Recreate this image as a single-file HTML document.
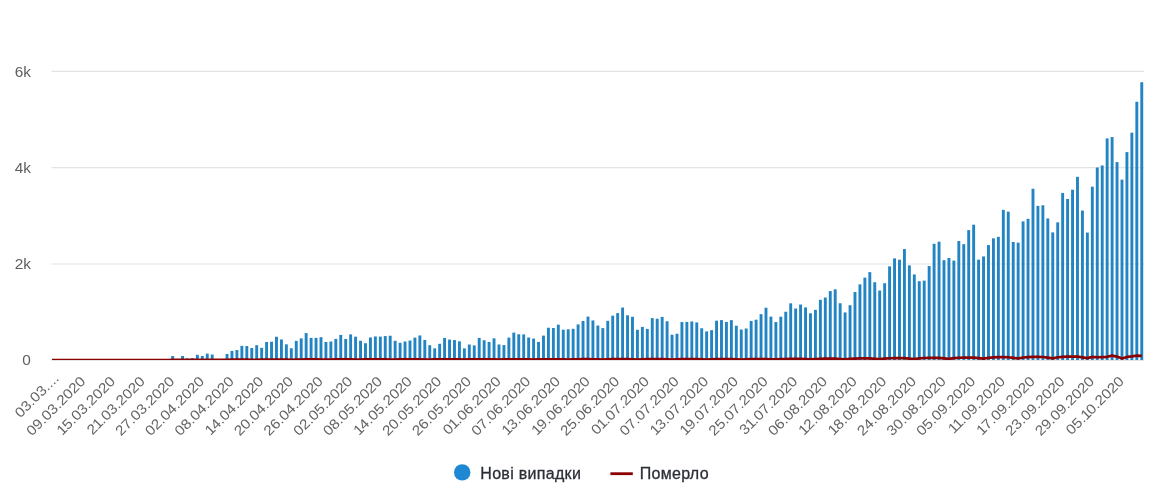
<!DOCTYPE html>
<html lang="uk"><head><meta charset="utf-8"><title>Нові випадки</title>
<style>
html,body{margin:0;padding:0;background:#fff}
body{width:1162px;height:489px;overflow:hidden}
svg{display:block;will-change:transform}
svg text{font-family:"Liberation Sans",Arial,sans-serif}
.yl{font-size:14px;fill:#5e5e5e}
.xl{font-size:14px;fill:#646464}
.lg{font-size:16px;letter-spacing:0.3px;fill:#2b2f36;stroke:#2b2f36;stroke-width:0.3px}
</style></head><body>
<svg width="1162" height="489" viewBox="0 0 1162 489">
<rect width="1162" height="489" fill="#fff"/>
<defs><clipPath id="pc"><rect x="51.5" y="60" width="1093.1" height="300.0"/></clipPath></defs>
<g stroke="#e4e4e4" stroke-width="1.2">
<line x1="51.5" y1="360.3" x2="1144.2" y2="360.3"/>
<line x1="51.5" y1="264.0" x2="1144.2" y2="264.0"/>
<line x1="51.5" y1="167.7" x2="1144.2" y2="167.7"/>
<line x1="51.5" y1="71.4" x2="1144.2" y2="71.4"/>
</g>
<g class="yl" text-anchor="end">
<text transform="translate(30.9 364.9) scale(1.1 1)">0</text>
<text transform="translate(30.9 269.0) scale(1.1 1)">2k</text>
<text transform="translate(30.9 173.1) scale(1.1 1)">4k</text>
<text transform="translate(30.9 76.8) scale(1.1 1)">6k</text>
</g>
<g fill="#2284c2">
<rect x="171.19" y="356.00" width="2.90" height="4.00"/><rect x="181.08" y="356.00" width="2.90" height="4.00"/><rect x="186.02" y="358.40" width="2.90" height="1.60"/><rect x="190.97" y="358.16" width="2.90" height="1.84"/><rect x="195.91" y="354.80" width="2.90" height="5.20"/><rect x="200.86" y="356.00" width="2.90" height="4.00"/><rect x="205.80" y="353.60" width="2.90" height="6.40"/>
<rect x="210.75" y="354.56" width="2.90" height="5.44"/><rect x="225.58" y="353.94" width="2.90" height="6.06"/><rect x="230.52" y="350.91" width="2.90" height="9.09"/><rect x="235.47" y="350.05" width="2.90" height="9.95"/><rect x="240.41" y="345.87" width="2.90" height="14.13"/><rect x="245.36" y="346.02" width="2.90" height="13.98"/>
<rect x="250.30" y="348.03" width="2.90" height="11.97"/><rect x="255.25" y="345.20" width="2.90" height="14.80"/><rect x="260.19" y="347.84" width="2.90" height="12.16"/><rect x="265.14" y="341.98" width="2.90" height="18.02"/><rect x="270.08" y="341.74" width="2.90" height="18.26"/><rect x="275.02" y="336.75" width="2.90" height="23.25"/><rect x="279.97" y="339.49" width="2.90" height="20.51"/><rect x="284.91" y="344.34" width="2.90" height="15.66"/>
<rect x="289.86" y="348.27" width="2.90" height="11.73"/><rect x="294.80" y="340.88" width="2.90" height="19.12"/><rect x="299.75" y="338.38" width="2.90" height="21.62"/><rect x="304.69" y="333.06" width="2.90" height="26.94"/><rect x="309.64" y="337.90" width="2.90" height="22.10"/><rect x="314.58" y="337.86" width="2.90" height="22.14"/><rect x="319.53" y="337.18" width="2.90" height="22.82"/><rect x="324.47" y="341.98" width="2.90" height="18.02"/>
<rect x="329.41" y="341.55" width="2.90" height="18.45"/><rect x="334.36" y="338.91" width="2.90" height="21.09"/><rect x="339.30" y="334.88" width="2.90" height="25.12"/><rect x="344.25" y="338.96" width="2.90" height="21.04"/><rect x="349.19" y="334.40" width="2.90" height="25.60"/><rect x="354.14" y="336.70" width="2.90" height="23.30"/><rect x="359.08" y="340.74" width="2.90" height="19.26"/><rect x="364.03" y="343.23" width="2.90" height="16.77"/>
<rect x="368.97" y="337.42" width="2.90" height="22.58"/><rect x="373.91" y="336.46" width="2.90" height="23.54"/><rect x="378.86" y="336.61" width="2.90" height="23.39"/><rect x="383.80" y="336.08" width="2.90" height="23.92"/><rect x="388.75" y="335.74" width="2.90" height="24.26"/><rect x="393.69" y="340.83" width="2.90" height="19.17"/><rect x="398.64" y="342.80" width="2.90" height="17.20"/><rect x="403.58" y="341.50" width="2.90" height="18.50"/>
<rect x="408.53" y="340.54" width="2.90" height="19.46"/><rect x="413.47" y="337.62" width="2.90" height="22.38"/><rect x="418.42" y="335.46" width="2.90" height="24.54"/><rect x="423.36" y="340.02" width="2.90" height="19.98"/><rect x="428.30" y="345.20" width="2.90" height="14.80"/><rect x="433.25" y="348.32" width="2.90" height="11.68"/><rect x="438.19" y="343.81" width="2.90" height="16.19"/><rect x="443.14" y="337.95" width="2.90" height="22.05"/>
<rect x="448.08" y="339.58" width="2.90" height="20.42"/><rect x="453.03" y="340.06" width="2.90" height="19.94"/><rect x="457.97" y="341.31" width="2.90" height="18.69"/><rect x="462.92" y="348.37" width="2.90" height="11.63"/><rect x="467.86" y="344.53" width="2.90" height="15.47"/><rect x="472.80" y="345.39" width="2.90" height="14.61"/><rect x="477.75" y="337.90" width="2.90" height="22.10"/><rect x="482.69" y="340.21" width="2.90" height="19.79"/>
<rect x="487.64" y="341.94" width="2.90" height="18.06"/><rect x="492.58" y="338.34" width="2.90" height="21.66"/><rect x="497.53" y="344.48" width="2.90" height="15.52"/><rect x="502.47" y="345.06" width="2.90" height="14.94"/><rect x="507.42" y="337.62" width="2.90" height="22.38"/><rect x="512.36" y="332.58" width="2.90" height="27.42"/><rect x="517.31" y="334.26" width="2.90" height="25.74"/><rect x="522.25" y="334.40" width="2.90" height="25.60"/>
<rect x="527.19" y="337.52" width="2.90" height="22.48"/><rect x="532.14" y="338.58" width="2.90" height="21.42"/><rect x="537.08" y="341.89" width="2.90" height="18.11"/><rect x="542.03" y="335.60" width="2.90" height="24.40"/><rect x="546.97" y="327.73" width="2.90" height="32.27"/><rect x="551.92" y="328.02" width="2.90" height="31.98"/><rect x="556.86" y="324.66" width="2.90" height="35.34"/><rect x="561.81" y="329.70" width="2.90" height="30.30"/>
<rect x="566.75" y="329.31" width="2.90" height="30.69"/><rect x="571.69" y="328.83" width="2.90" height="31.17"/><rect x="576.64" y="324.42" width="2.90" height="35.58"/><rect x="581.58" y="321.01" width="2.90" height="38.99"/><rect x="586.53" y="316.59" width="2.90" height="43.41"/><rect x="591.47" y="320.43" width="2.90" height="39.57"/><rect x="596.42" y="325.52" width="2.90" height="34.48"/><rect x="601.36" y="328.11" width="2.90" height="31.89"/>
<rect x="606.31" y="320.82" width="2.90" height="39.18"/><rect x="611.25" y="315.68" width="2.90" height="44.32"/><rect x="616.20" y="313.09" width="2.90" height="46.91"/><rect x="621.14" y="307.57" width="2.90" height="52.43"/><rect x="626.08" y="315.30" width="2.90" height="44.70"/><rect x="631.03" y="316.78" width="2.90" height="43.22"/><rect x="635.97" y="329.79" width="2.90" height="30.21"/><rect x="640.92" y="326.91" width="2.90" height="33.09"/>
<rect x="645.86" y="328.93" width="2.90" height="31.07"/><rect x="650.81" y="318.13" width="2.90" height="41.87"/><rect x="655.75" y="318.75" width="2.90" height="41.25"/><rect x="660.70" y="316.93" width="2.90" height="43.07"/><rect x="665.64" y="321.30" width="2.90" height="38.70"/><rect x="670.58" y="334.74" width="2.90" height="25.26"/><rect x="675.53" y="333.73" width="2.90" height="26.27"/><rect x="680.47" y="322.06" width="2.90" height="37.94"/>
<rect x="685.42" y="321.92" width="2.90" height="38.08"/><rect x="690.36" y="321.49" width="2.90" height="38.51"/><rect x="695.31" y="322.40" width="2.90" height="37.60"/><rect x="700.25" y="328.26" width="2.90" height="31.74"/><rect x="705.20" y="331.42" width="2.90" height="28.58"/><rect x="710.14" y="330.18" width="2.90" height="29.82"/><rect x="715.09" y="320.67" width="2.90" height="39.33"/><rect x="720.03" y="320.10" width="2.90" height="39.90"/>
<rect x="724.97" y="321.97" width="2.90" height="38.03"/><rect x="729.92" y="320.14" width="2.90" height="39.86"/><rect x="734.86" y="325.71" width="2.90" height="34.29"/><rect x="739.81" y="329.55" width="2.90" height="30.45"/><rect x="744.75" y="328.50" width="2.90" height="31.50"/><rect x="749.70" y="321.01" width="2.90" height="38.99"/><rect x="754.64" y="319.71" width="2.90" height="40.29"/><rect x="759.59" y="314.14" width="2.90" height="45.86"/>
<rect x="764.53" y="307.71" width="2.90" height="52.29"/><rect x="769.47" y="316.64" width="2.90" height="43.36"/><rect x="774.42" y="322.06" width="2.90" height="37.94"/><rect x="779.36" y="316.69" width="2.90" height="43.31"/><rect x="784.31" y="311.74" width="2.90" height="48.26"/><rect x="789.25" y="303.34" width="2.90" height="56.66"/><rect x="794.20" y="308.48" width="2.90" height="51.52"/><rect x="799.14" y="304.54" width="2.90" height="55.46"/>
<rect x="804.09" y="307.42" width="2.90" height="52.58"/><rect x="809.03" y="313.28" width="2.90" height="46.72"/><rect x="813.98" y="309.87" width="2.90" height="50.13"/><rect x="818.92" y="299.79" width="2.90" height="60.21"/><rect x="823.86" y="297.54" width="2.90" height="62.46"/><rect x="828.81" y="291.06" width="2.90" height="68.94"/><rect x="833.75" y="289.33" width="2.90" height="70.67"/><rect x="838.70" y="303.25" width="2.90" height="56.75"/>
<rect x="843.64" y="312.42" width="2.90" height="47.58"/><rect x="848.59" y="305.22" width="2.90" height="54.78"/><rect x="853.53" y="292.02" width="2.90" height="67.98"/><rect x="858.48" y="284.38" width="2.90" height="75.62"/><rect x="863.42" y="277.66" width="2.90" height="82.34"/><rect x="868.36" y="272.14" width="2.90" height="87.86"/><rect x="873.31" y="282.22" width="2.90" height="77.78"/><rect x="878.25" y="290.53" width="2.90" height="69.47"/>
<rect x="883.20" y="283.23" width="2.90" height="76.77"/><rect x="888.14" y="266.38" width="2.90" height="93.62"/><rect x="893.09" y="258.37" width="2.90" height="101.63"/><rect x="898.03" y="259.71" width="2.90" height="100.29"/><rect x="902.98" y="249.06" width="2.90" height="110.94"/><rect x="907.92" y="265.42" width="2.90" height="94.58"/><rect x="912.87" y="274.45" width="2.90" height="85.55"/><rect x="917.81" y="281.22" width="2.90" height="78.78"/>
<rect x="922.75" y="280.64" width="2.90" height="79.36"/><rect x="927.70" y="266.05" width="2.90" height="93.95"/><rect x="932.64" y="243.78" width="2.90" height="116.22"/><rect x="937.59" y="241.71" width="2.90" height="118.29"/><rect x="942.53" y="260.19" width="2.90" height="99.81"/><rect x="947.48" y="258.03" width="2.90" height="101.97"/><rect x="952.42" y="260.58" width="2.90" height="99.42"/><rect x="957.37" y="241.04" width="2.90" height="118.96"/>
<rect x="962.31" y="244.16" width="2.90" height="115.84"/><rect x="967.25" y="230.10" width="2.90" height="129.90"/><rect x="972.20" y="224.67" width="2.90" height="135.33"/><rect x="977.14" y="259.66" width="2.90" height="100.34"/><rect x="982.09" y="256.45" width="2.90" height="103.55"/><rect x="987.03" y="245.07" width="2.90" height="114.93"/><rect x="991.98" y="238.35" width="2.90" height="121.65"/><rect x="996.92" y="236.86" width="2.90" height="123.14"/>
<rect x="1001.87" y="209.89" width="2.90" height="150.11"/><rect x="1006.81" y="211.66" width="2.90" height="148.34"/><rect x="1011.76" y="241.95" width="2.90" height="118.05"/><rect x="1016.70" y="242.62" width="2.90" height="117.38"/><rect x="1021.64" y="221.36" width="2.90" height="138.64"/><rect x="1026.59" y="218.82" width="2.90" height="141.18"/><rect x="1031.53" y="188.77" width="2.90" height="171.23"/><rect x="1036.48" y="205.86" width="2.90" height="154.14"/>
<rect x="1041.42" y="205.28" width="2.90" height="154.72"/><rect x="1046.37" y="218.43" width="2.90" height="141.57"/><rect x="1051.31" y="232.40" width="2.90" height="127.60"/><rect x="1056.26" y="222.37" width="2.90" height="137.63"/><rect x="1061.20" y="192.94" width="2.90" height="167.06"/><rect x="1066.14" y="198.94" width="2.90" height="161.06"/><rect x="1071.09" y="189.68" width="2.90" height="170.32"/><rect x="1076.03" y="176.82" width="2.90" height="183.18"/>
<rect x="1080.98" y="210.56" width="2.90" height="149.44"/><rect x="1085.92" y="232.59" width="2.90" height="127.41"/><rect x="1090.87" y="186.70" width="2.90" height="173.30"/><rect x="1095.81" y="167.50" width="2.90" height="192.50"/><rect x="1100.76" y="165.49" width="2.90" height="194.51"/><rect x="1105.70" y="138.42" width="2.90" height="221.58"/><rect x="1110.65" y="137.07" width="2.90" height="222.93"/><rect x="1115.59" y="162.08" width="2.90" height="197.92"/>
<rect x="1120.53" y="179.65" width="2.90" height="180.35"/><rect x="1125.48" y="152.10" width="2.90" height="207.90"/><rect x="1130.42" y="132.66" width="2.90" height="227.34"/><rect x="1135.37" y="101.74" width="2.90" height="258.26"/><rect x="1140.31" y="82.21" width="2.90" height="277.79"/>
</g>
<polyline clip-path="url(#pc)" fill="none" stroke="#8b0000" stroke-width="2.7" stroke-linejoin="round" points="51.8,360.05 54.0,360.05 58.9,360.05 63.9,360.05 68.8,360.05 73.8,360.05 78.7,360.05 83.6,360.05 88.6,360.05 93.5,360.05 98.5,360.05 103.4,360.05 108.4,360.05 113.3,360.05 118.3,360.05 123.2,360.05 128.1,360.05 133.1,360.05 138.0,360.05 143.0,360.05 147.9,360.05 152.9,360.05 157.8,360.05 162.8,360.00 167.7,360.00 172.6,359.95 177.6,359.95 182.5,359.95 187.5,359.95 192.4,359.91 197.4,359.86 202.3,359.81 207.3,359.81 212.2,359.81 217.1,359.86 222.1,359.91 227.0,359.81 232.0,359.71 236.9,359.71 241.9,359.67 246.8,359.67 251.8,359.76 256.7,359.81 261.6,359.67 266.6,359.62 271.5,359.57 276.5,359.57 281.4,359.57 286.4,359.67 291.3,359.76 296.3,359.57 301.2,359.52 306.1,359.47 311.1,359.47 316.0,359.47 321.0,359.57 325.9,359.71 330.9,359.52 335.8,359.43 340.8,359.38 345.7,359.33 350.6,359.38 355.6,359.52 360.5,359.67 365.5,359.47 370.4,359.38 375.4,359.33 380.3,359.33 385.3,359.33 390.2,359.52 395.1,359.67 400.1,359.43 405.0,359.33 410.0,359.33 414.9,359.33 419.9,359.33 424.8,359.52 429.8,359.67 434.7,359.43 439.6,359.33 444.6,359.28 449.5,359.28 454.5,359.33 459.4,359.47 464.4,359.67 469.3,359.43 474.3,359.33 479.2,359.28 484.1,359.28 489.1,359.33 494.0,359.47 499.0,359.67 503.9,359.43 508.9,359.28 513.8,359.28 518.8,359.28 523.7,359.28 528.6,359.47 533.6,359.62 538.5,359.38 543.5,359.28 548.4,359.23 553.4,359.23 558.3,359.28 563.3,359.43 568.2,359.62 573.1,359.38 578.1,359.23 583.0,359.19 588.0,359.19 592.9,359.23 597.9,359.38 602.8,359.57 607.8,359.28 612.7,359.19 617.6,359.14 622.6,359.09 627.5,359.14 632.5,359.33 637.4,359.52 642.4,359.23 647.3,359.09 652.3,359.04 657.2,359.04 662.1,359.09 667.1,359.33 672.0,359.52 677.0,359.23 681.9,359.14 686.9,359.09 691.8,359.09 696.8,359.14 701.7,359.33 706.6,359.57 711.6,359.28 716.5,359.14 721.5,359.09 726.4,359.09 731.4,359.14 736.3,359.33 741.3,359.52 746.2,359.23 751.1,359.09 756.1,359.04 761.0,359.04 766.0,359.04 770.9,359.28 775.9,359.47 780.8,359.19 785.8,358.99 790.7,358.95 795.6,358.95 800.6,358.95 805.5,359.19 810.5,359.43 815.4,358.99 820.4,358.80 825.3,358.71 830.3,358.71 835.2,358.71 840.1,358.99 845.1,359.28 850.0,358.80 855.0,358.56 859.9,358.47 864.9,358.42 869.8,358.47 874.8,358.80 879.7,359.14 884.6,358.56 889.6,358.27 894.5,358.18 899.5,358.13 904.4,358.18 909.4,358.56 914.3,358.99 919.3,358.32 924.2,357.99 929.1,357.89 934.1,357.84 939.0,357.89 944.0,358.37 948.9,358.85 953.9,358.08 958.8,357.75 963.8,357.60 968.7,357.55 973.6,357.60 978.6,358.13 983.5,358.66 988.5,357.79 993.4,357.41 998.4,357.22 1003.3,357.17 1008.3,357.27 1013.2,357.84 1018.1,358.47 1023.1,357.51 1028.0,357.07 1033.0,356.88 1037.9,356.88 1042.9,356.98 1047.8,357.65 1052.8,358.32 1057.7,357.27 1062.7,356.83 1067.6,356.64 1072.5,356.55 1077.5,356.64 1082.4,357.36 1087.4,358.08 1092.3,356.88 1097.3,357.27 1102.2,357.03 1107.2,356.79 1112.1,355.63 1117.0,356.55 1122.0,358.47 1126.9,356.93 1131.9,356.35 1136.8,355.59 1141.8,355.78"/>
<g class="xl" text-anchor="end">
<text transform="translate(59.8 379.1) rotate(-45) scale(1.1 1)" x="0" y="0">03.03....</text>
<text transform="translate(86.4 382.1) rotate(-45) scale(1.1 1)" x="0" y="0">09.03.2020</text>
<text transform="translate(116.1 382.1) rotate(-45) scale(1.1 1)" x="0" y="0" dx="0 -0.9 0 0 0 0 0 0 0 0">15.03.2020</text>
<text transform="translate(145.8 382.1) rotate(-45) scale(1.1 1)" x="0" y="0" dx="0 -0.6 -0.9 0 0 0 0 0 0 0">21.03.2020</text>
<text transform="translate(175.4 382.1) rotate(-45) scale(1.1 1)" x="0" y="0">27.03.2020</text>
<text transform="translate(205.1 382.1) rotate(-45) scale(1.1 1)" x="0" y="0">02.04.2020</text>
<text transform="translate(234.8 382.1) rotate(-45) scale(1.1 1)" x="0" y="0">08.04.2020</text>
<text transform="translate(264.4 382.1) rotate(-45) scale(1.1 1)" x="0" y="0" dx="0 -0.9 0 0 0 0 0 0 0 0">14.04.2020</text>
<text transform="translate(294.1 382.1) rotate(-45) scale(1.1 1)" x="0" y="0">20.04.2020</text>
<text transform="translate(323.8 382.1) rotate(-45) scale(1.1 1)" x="0" y="0">26.04.2020</text>
<text transform="translate(353.4 382.1) rotate(-45) scale(1.1 1)" x="0" y="0">02.05.2020</text>
<text transform="translate(383.1 382.1) rotate(-45) scale(1.1 1)" x="0" y="0">08.05.2020</text>
<text transform="translate(412.8 382.1) rotate(-45) scale(1.1 1)" x="0" y="0" dx="0 -0.9 0 0 0 0 0 0 0 0">14.05.2020</text>
<text transform="translate(442.4 382.1) rotate(-45) scale(1.1 1)" x="0" y="0">20.05.2020</text>
<text transform="translate(472.1 382.1) rotate(-45) scale(1.1 1)" x="0" y="0">26.05.2020</text>
<text transform="translate(501.8 382.1) rotate(-45) scale(1.1 1)" x="0" y="0" dx="0 -0.6 -0.9 0 0 0 0 0 0 0">01.06.2020</text>
<text transform="translate(531.4 382.1) rotate(-45) scale(1.1 1)" x="0" y="0">07.06.2020</text>
<text transform="translate(561.1 382.1) rotate(-45) scale(1.1 1)" x="0" y="0" dx="0 -0.9 0 0 0 0 0 0 0 0">13.06.2020</text>
<text transform="translate(590.8 382.1) rotate(-45) scale(1.1 1)" x="0" y="0" dx="0 -0.9 0 0 0 0 0 0 0 0">19.06.2020</text>
<text transform="translate(620.4 382.1) rotate(-45) scale(1.1 1)" x="0" y="0">25.06.2020</text>
<text transform="translate(650.1 382.1) rotate(-45) scale(1.1 1)" x="0" y="0" dx="0 -0.6 -0.9 0 0 0 0 0 0 0">01.07.2020</text>
<text transform="translate(679.8 382.1) rotate(-45) scale(1.1 1)" x="0" y="0">07.07.2020</text>
<text transform="translate(709.4 382.1) rotate(-45) scale(1.1 1)" x="0" y="0" dx="0 -0.9 0 0 0 0 0 0 0 0">13.07.2020</text>
<text transform="translate(739.1 382.1) rotate(-45) scale(1.1 1)" x="0" y="0" dx="0 -0.9 0 0 0 0 0 0 0 0">19.07.2020</text>
<text transform="translate(768.8 382.1) rotate(-45) scale(1.1 1)" x="0" y="0">25.07.2020</text>
<text transform="translate(798.4 382.1) rotate(-45) scale(1.1 1)" x="0" y="0" dx="0 -0.6 -0.9 0 0 0 0 0 0 0">31.07.2020</text>
<text transform="translate(828.1 382.1) rotate(-45) scale(1.1 1)" x="0" y="0">06.08.2020</text>
<text transform="translate(857.8 382.1) rotate(-45) scale(1.1 1)" x="0" y="0" dx="0 -0.9 0 0 0 0 0 0 0 0">12.08.2020</text>
<text transform="translate(887.4 382.1) rotate(-45) scale(1.1 1)" x="0" y="0" dx="0 -0.9 0 0 0 0 0 0 0 0">18.08.2020</text>
<text transform="translate(917.1 382.1) rotate(-45) scale(1.1 1)" x="0" y="0">24.08.2020</text>
<text transform="translate(946.8 382.1) rotate(-45) scale(1.1 1)" x="0" y="0">30.08.2020</text>
<text transform="translate(976.4 382.1) rotate(-45) scale(1.1 1)" x="0" y="0">05.09.2020</text>
<text transform="translate(1006.1 382.1) rotate(-45) scale(1.1 1)" x="0" y="0" dx="0 -1.0 -0.9 0 0 0 0 0 0 0">11.09.2020</text>
<text transform="translate(1035.8 382.1) rotate(-45) scale(1.1 1)" x="0" y="0" dx="0 -0.9 0 0 0 0 0 0 0 0">17.09.2020</text>
<text transform="translate(1065.5 382.1) rotate(-45) scale(1.1 1)" x="0" y="0">23.09.2020</text>
<text transform="translate(1095.1 382.1) rotate(-45) scale(1.1 1)" x="0" y="0">29.09.2020</text>
<text transform="translate(1124.8 382.1) rotate(-45) scale(1.1 1)" x="0" y="0" dx="0 0 0 -0.6 -0.9 0 0 0 0 0">05.10.2020</text>
</g>
<circle cx="462.2" cy="472.4" r="8.2" fill="#1e88d3"/>
<text class="lg" x="480.3" y="478.8">Нові випадки</text>
<line x1="610.4" y1="473.7" x2="632.8" y2="473.7" stroke="#8b0000" stroke-width="2.8"/>
<text class="lg" x="639.7" y="478.8">Померло</text>
</svg>
</body></html>
